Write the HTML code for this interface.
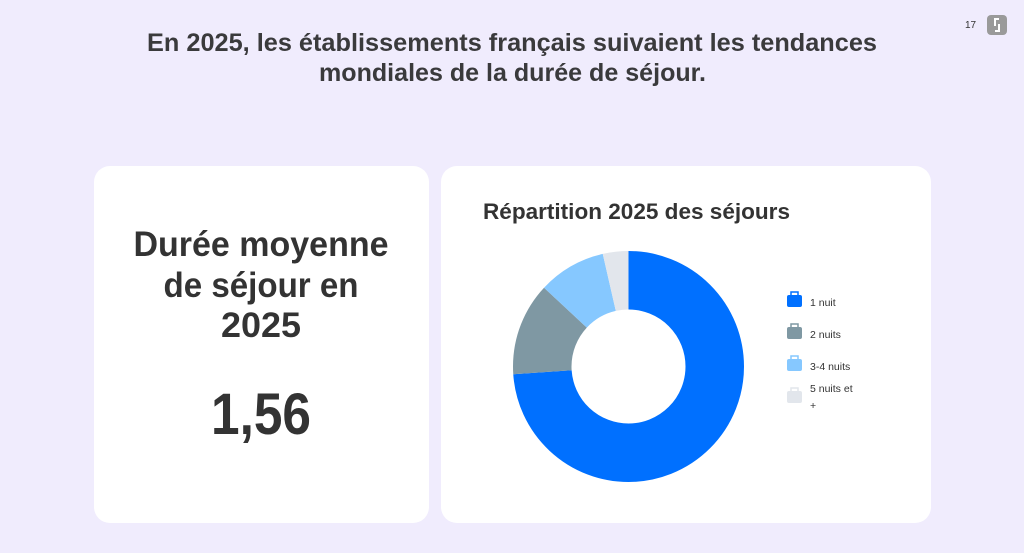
<!DOCTYPE html>
<html><head><meta charset="utf-8"><style>
html,body{margin:0;padding:0;background:#F0ECFD;}
svg{display:block}
</style></head><body>
<svg width="1024" height="553" viewBox="0 0 1024 553" xmlns="http://www.w3.org/2000/svg" font-family="Liberation Sans, sans-serif">
<rect width="1024" height="553" fill="#F0ECFD"/>
<g fill="#3a3a3c" font-weight="bold" font-size="25">
<text x="147" y="51" textLength="730" lengthAdjust="spacingAndGlyphs">En 2025, les établissements français suivaient les tendances</text>
<text x="319" y="81" textLength="387" lengthAdjust="spacingAndGlyphs">mondiales de la durée de séjour.</text>
</g>
<text x="965" y="28" font-size="10" fill="#333">17</text>
<rect x="987" y="15" width="20" height="20" rx="4" fill="#9a9a9a"/>
<path d="M999 19 L995 19 L995 26 M995 31 L999 31 L999 24" stroke="#fff" stroke-width="2" fill="none"/>
<rect x="94" y="166" width="335" height="357" rx="16" fill="#fff"/>
<rect x="441" y="166" width="490" height="357" rx="16" fill="#fff"/>
<g fill="#333" font-weight="bold" font-size="35" text-anchor="middle">
<text x="261" y="256" textLength="255" lengthAdjust="spacingAndGlyphs">Durée moyenne</text>
<text x="261" y="297" textLength="195" lengthAdjust="spacingAndGlyphs">de séjour en</text>
<text x="261" y="337" textLength="80" lengthAdjust="spacingAndGlyphs">2025</text>
<text x="261" y="434" font-size="58" textLength="100" lengthAdjust="spacingAndGlyphs">1,56</text>
</g>
<text x="483" y="219" font-size="22" font-weight="bold" fill="#333" textLength="307" lengthAdjust="spacingAndGlyphs">Répartition 2025 des séjours</text>
<g transform="rotate(-90 628.5 366.5)" fill="none" stroke-width="58.5">
<circle cx="628.5" cy="366.5" r="86.25" stroke="#0070FF" stroke-dasharray="400.5 600" />
<circle cx="628.5" cy="366.5" r="86.25" stroke="#7F98A3" stroke-dasharray="0 400.5 70.5 600" />
<circle cx="628.5" cy="366.5" r="86.25" stroke="#86C8FF" stroke-dasharray="0 471 51.3 600" />
<circle cx="628.5" cy="366.5" r="86.25" stroke="#E2E6EC" stroke-dasharray="0 522.3 19.6 600" />
</g>
<g font-size="10.5" fill="#333">
<rect x="787" y="295" width="15" height="12" rx="2" fill="#0070FF"/><path d="M791 295 v-3 h7 v3" stroke="#0070FF" fill="none" stroke-width="1.5"/>
<text x="810" y="306">1 nuit</text>
<rect x="787" y="327" width="15" height="12" rx="2" fill="#7F98A3"/><path d="M791 327 v-3 h7 v3" stroke="#7F98A3" fill="none" stroke-width="1.5"/>
<text x="810" y="338">2 nuits</text>
<rect x="787" y="359" width="15" height="12" rx="2" fill="#86C8FF"/><path d="M791 359 v-3 h7 v3" stroke="#86C8FF" fill="none" stroke-width="1.5"/>
<text x="810" y="370">3-4 nuits</text>
<rect x="787" y="391" width="15" height="12" rx="2" fill="#E2E6EC"/><path d="M791 391 v-3 h7 v3" stroke="#E2E6EC" fill="none" stroke-width="1.5"/>
<text x="810" y="392">5 nuits et</text>
<text x="810" y="409">+</text>
</g>
</svg>
</body></html>
